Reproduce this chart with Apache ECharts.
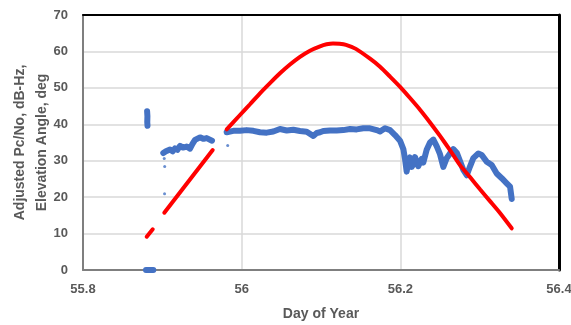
<!DOCTYPE html>
<html><head><meta charset="utf-8">
<script src="https://cdn.jsdelivr.net/npm/echarts@6/dist/echarts.min.js"></script>
<style>html,body{margin:0;padding:0;background:#fff}#c{width:571px;height:325px}</style>
</head><body><div id="c"></div>
<script>
// Tick settings
const xTicks = [55.8, 56, 56.2, 56.4];
const yTicks = [0, 10, 20, 30, 40, 50, 60, 70];

// Adjusted Pc/No (dB-Hz): [day of year, value]; null = gap
const pcnoData = [
  [55.8794, 0], [55.8886, 0], null,
  [55.8808, 43.6], [55.8812, 42.2], [55.8810, 40.6], [55.8813, 39.6], null,
  [55.9012, 32.1], [55.9030, 31.6], [55.9046, 32.6], [55.9070, 32.2], [55.9097, 33.1],
  [55.9130, 32.6], [55.9160, 33.4], [55.9190, 33.0], [55.9223, 34.1],
  [55.9261, 33.6], [55.9307, 33.9], [55.9349, 33.3], [55.9380, 34.6], [55.9412, 35.7],
  [55.9475, 36.4], [55.9520, 36.0], [55.9559, 36.2], [55.9626, 35.5], null,
  [55.9811, 37.8], [55.9895, 38.2], [55.9979, 38.2], [56.0064, 38.4], [56.0147, 38.2],
  [56.0231, 37.8], [56.0316, 37.7], [56.0399, 38.0], [56.0483, 38.7], [56.0568, 38.3],
  [56.0651, 38.5], [56.0735, 38.15], [56.0820, 37.97], [56.0903, 36.8], [56.0946, 37.6],
  [56.0988, 37.8], [56.1029, 38.15], [56.1114, 38.3], [56.1198, 38.3], [56.1281, 38.4],
  [56.1366, 38.7], [56.1450, 38.6], [56.1533, 38.9], [56.1618, 38.9], [56.1702, 38.4],
  [56.1744, 38.0], [56.1807, 38.9], [56.1870, 38.4], [56.1933, 37.05], [56.1996, 35.5],
  [56.2038, 33.2], [56.2059, 30.5], [56.2080, 27.0], [56.2097, 29.5], [56.2122, 30.9],
  [56.2143, 28.3], [56.2163, 29.0], [56.2185, 31.0], [56.2206, 30.5], [56.2226, 28.5],
  [56.2248, 29.5], [56.2270, 30.5], [56.2290, 29.5], [56.2332, 33.0], [56.2374, 35.0],
  [56.2416, 35.8], [56.2458, 34.0], [56.2500, 31.8], [56.2542, 28.3], [56.2584, 30.7],
  [56.2626, 32.0], [56.2668, 33.2], [56.2711, 32.2], [56.2752, 29.9], [56.2794, 27.5],
  [56.2837, 26.0], [56.2878, 28.4], [56.2920, 30.7], [56.2983, 32.0], [56.3026, 31.6],
  [56.3089, 29.7], [56.3152, 28.8], [56.3215, 26.5], [56.3278, 25.2], [56.3341, 23.8],
  [56.3383, 22.9], [56.3404, 19.5]
];

// Isolated Pc/No samples
const pcnoDots = [[55.9024, 30.6], [55.9030, 28.4], [55.9028, 20.9], [55.9824, 34.2]];

// Elevation angle (deg): [day of year, value]; null = gap
const elevData = [
  [55.8803, 9.14], [55.8879, 11.17], null,
  [55.9025, 15.73], [55.9635, 32.94], null,
  [55.9811, 38.62], [55.9979, 42.55], [56.0105, 45.5], [56.0231, 48.5], [56.0357, 51.3],
  [56.0483, 54.0], [56.0609, 56.4], [56.0735, 58.5], [56.0861, 60.2], [56.0988, 61.4],
  [56.1070, 61.95], [56.1151, 62.2], [56.1233, 62.1], [56.1315, 61.8], [56.1440, 60.7],
  [56.1618, 58.0], [56.1744, 55.8],
  [56.1870, 53.1], [56.2000, 50.2], [56.2122, 47.2], [56.2248, 44.0], [56.2374, 40.5],
  [56.2500, 36.8], [56.2626, 32.9], [56.2752, 28.8], [56.2878, 25.5], [56.3004, 22.15],
  [56.3130, 18.9], [56.3256, 15.65], [56.3404, 11.45]
];

const txt = '#595959';
const font = 'Liberation Sans';
const chart = echarts.init(document.getElementById('c'), null, {renderer: 'canvas'});
chart.setOption({
  animation: false,
  backgroundColor: '#fff',
  grid: {left: 83, right: 12, top: 15, bottom: 55, containLabel: false, outerBoundsMode: 'none'},
  xAxis: [{
    type: 'value', min: xTicks[0], max: xTicks[xTicks.length - 1], interval: 0.2,
    name: 'Day of Year', nameLocation: 'middle', nameGap: 37, nameMoveOverlap: false,
    nameTextStyle: {color: txt, fontWeight: 'bold', fontSize: 14, fontFamily: font},
    axisLine: {show: true, onZero: false, lineStyle: {color: '#7f7f7f', width: 2}},
    axisTick: {show: false},
    axisLabel: {color: txt, fontWeight: 'bold', fontSize: 13, fontFamily: font, margin: 13,
      formatter: v => String(Math.round(v * 10) / 10)},
    splitLine: {show: true, lineStyle: {color: '#d9d9d9', width: 1.5}}
  }, {
    type: 'value', position: 'top', min: xTicks[0], max: xTicks[xTicks.length - 1], interval: 0.2,
    axisLine: {show: true, onZero: false, lineStyle: {color: '#000', width: 2}},
    axisTick: {show: false}, axisLabel: {show: false}, splitLine: {show: false}
  }],
  yAxis: [{
    type: 'value', min: yTicks[0], max: yTicks[yTicks.length - 1], interval: 10,
    name: 'Adjusted Pc/No, dB-Hz,\nElevation Angle, deg', nameLocation: 'middle', nameGap: 30,
    nameMoveOverlap: false,
    nameTextStyle: {color: txt, fontWeight: 'bold', fontSize: 14, fontFamily: font, lineHeight: 22},
    axisLine: {show: true, onZero: false, lineStyle: {color: '#7f7f7f', width: 2}},
    axisTick: {show: false},
    axisLabel: {color: txt, fontWeight: 'bold', fontSize: 13, fontFamily: font, margin: 15},
    splitLine: {show: true, lineStyle: {color: '#d9d9d9', width: 1.5}}
  }, {
    type: 'value', position: 'right', min: yTicks[0], max: yTicks[yTicks.length - 1], interval: 10,
    axisLine: {show: true, onZero: false, lineStyle: {color: '#000', width: 3}},
    axisTick: {show: false}, axisLabel: {show: false}, splitLine: {show: false}
  }],
  series: [
    {name: 'Adjusted Pc/No', type: 'line', data: pcnoData, showSymbol: false, connectNulls: false,
     lineStyle: {color: '#4472C4', width: 6, join: 'round', cap: 'round'}, z: 2},
    {name: 'Adjusted Pc/No samples', type: 'scatter', data: pcnoDots, symbolSize: 3,
     itemStyle: {color: '#4472C4'}, z: 2},
    {name: 'Elevation Angle', type: 'line', data: elevData, showSymbol: false, connectNulls: false,
     smooth: 0.2, lineStyle: {color: '#FF0000', width: 4, cap: 'round'}, z: 3}
  ]
});
</script></body></html>
